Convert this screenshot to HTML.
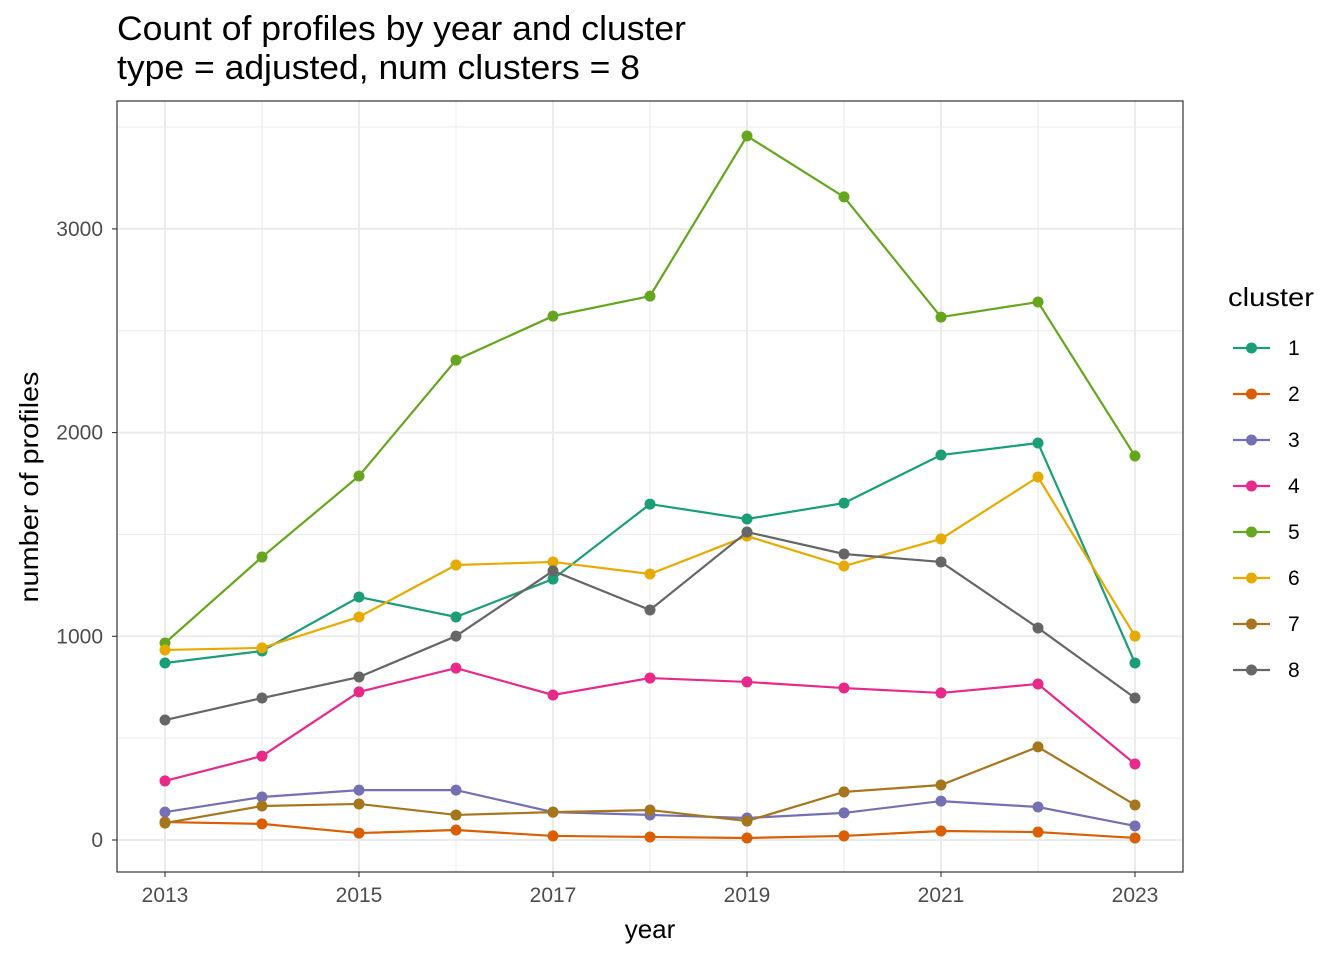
<!DOCTYPE html>
<html><head><meta charset="utf-8"><style>
body{margin:0;background:#fff;font-family:"Liberation Sans",sans-serif;}
svg text{font-family:"Liberation Sans",sans-serif;}
</style></head><body>
<svg id="chart" width="1344" height="960" xmlns="http://www.w3.org/2000/svg">
<text x="117" y="40" font-size="34" fill="#000" textLength="569" lengthAdjust="spacingAndGlyphs">Count of profiles by year and cluster</text>
<text x="117" y="79" font-size="34" fill="#000" textLength="523" lengthAdjust="spacingAndGlyphs">type = adjusted, num clusters = 8</text>
<g id="grid"></g><g id="series"></g><g id="axes"></g><g id="legend"></g>
</svg>
<script>
const years=[2013,2014,2015,2016,2017,2018,2019,2020,2021,2022,2023];
const clusters=["1","2","3","4","5","6","7","8"];
const s1=[869,928,1193,1095,1281,1649,1576,1654,1890,1949,869];
const s2=[88,79,34,49,20,15,10,20,44,39,10];
const s3=[137,211,245,245,137,123,108,133,191,162,69];
const s4=[290,412,727,844,712,795,776,746,722,766,373];
const s5=[967,1389,1787,2356,2572,2670,3456,3157,2567,2641,1885];
const s6=[933,943,1095,1350,1365,1306,1492,1345,1478,1782,1001];
const s7=[83,167,177,123,137,147,93,236,270,457,172];
const s8=[589,697,800,1001,1321,1129,1512,1404,1365,1041,697];
const series=[s1,s2,s3,s4,s5,s6,s7,s8];
const colors=["#1B9E77","#D95F02","#7570B3","#E7298A","#66A61E","#E6AB02","#A6761D","#666666"];
const yTicks=[0,1000,2000,3000];
const yMinor=[500,1500,2500,3500];
const xTicks=[2013,2015,2017,2019,2021,2023];
const xMinor=[2014,2016,2018,2020,2022];
const L=117,R=1183,T=101,B=872;
const xs=y=>165+(y-2013)*97;
const ys=v=>840-v*0.2037;
const NS="http://www.w3.org/2000/svg";
function mk(tag,attrs,parent){const e=document.createElementNS(NS,tag);for(const k in attrs)e.setAttribute(k,attrs[k]);parent.appendChild(e);return e;}
const grid=document.getElementById('grid'),ser=document.getElementById('series'),ax=document.getElementById('axes'),leg=document.getElementById('legend');
let bg=mk('rect',{x:L,y:T,width:R-L,height:B-T,fill:'#fff'},grid);


yMinor.forEach(v=>{const l=mk('line',{x1:L,x2:R,y1:ys(v),y2:ys(v),stroke:'#ebebeb','stroke-width':1},grid);

});
xMinor.forEach(v=>{const l=mk('line',{x1:xs(v),x2:xs(v),y1:T,y2:B,stroke:'#ebebeb','stroke-width':1},grid);

});
yTicks.forEach(v=>{const l=mk('line',{x1:L,x2:R,y1:ys(v),y2:ys(v),stroke:'#ebebeb','stroke-width':2},grid);


const t=mk('line',{x1:L-5,x2:L,y1:ys(v),y2:ys(v),stroke:'#333','stroke-width':1.1},ax);


const tx=mk('text',{x:L-14,y:ys(v)+7,'font-size':21,'text-anchor':'end',fill:'#4d4d4d'},ax);tx.textContent=v;

});
xTicks.forEach(v=>{const l=mk('line',{x1:xs(v),x2:xs(v),y1:T,y2:B,stroke:'#ebebeb','stroke-width':2},grid);


const t=mk('line',{x1:xs(v),x2:xs(v),y1:B,y2:B+5,stroke:'#333','stroke-width':1.1},ax);


const tx=mk('text',{x:xs(v),y:B+30,'font-size':21,'text-anchor':'middle',fill:'#4d4d4d'},ax);tx.textContent=v;

});
let border=mk('rect',{x:L,y:T,width:R-L,height:B-T,fill:'none',stroke:'#333','stroke-width':1.2},ax);


let xt=mk('text',{x:650,y:938,'font-size':26,'text-anchor':'middle',fill:'#000'},ax);xt.textContent='year';


let yt=mk('text',{x:38,y:487,'font-size':26,'text-anchor':'middle',fill:'#000',transform:'rotate(-90 38 487)',textLength:231,lengthAdjust:'spacingAndGlyphs'},ax);yt.textContent='number of profiles';


series.forEach((s,i)=>{
 const g=mk('g',{},ser);
 
 
 const p=mk('polyline',{points:s.map((v,j)=>xs(years[j])+','+ys(v)).join(' '),fill:'none',stroke:colors[i],'stroke-width':2.2},g);
 
 
 s.forEach((v,j)=>{const c=mk('circle',{cx:xs(years[j]),cy:ys(v),r:5.5,fill:colors[i]},g);
 
 });
});
let lt=mk('text',{x:1228,y:306,'font-size':26,fill:'#000',textLength:86,lengthAdjust:'spacingAndGlyphs'},leg);lt.textContent='cluster';


clusters.forEach((c,i)=>{const y=348+i*46.0;
 const g=mk('g',{},leg);
 
 
 mk('line',{x1:1233,x2:1270,y1:y,y2:y,stroke:colors[i],'stroke-width':2.2},g);
 mk('circle',{cx:1251.5,cy:y,r:5.5,fill:colors[i]},g);
 const t=mk('text',{x:1288,y:y+7,'font-size':21,fill:'#000'},g);t.textContent=c;
});
</script>
</body></html>
